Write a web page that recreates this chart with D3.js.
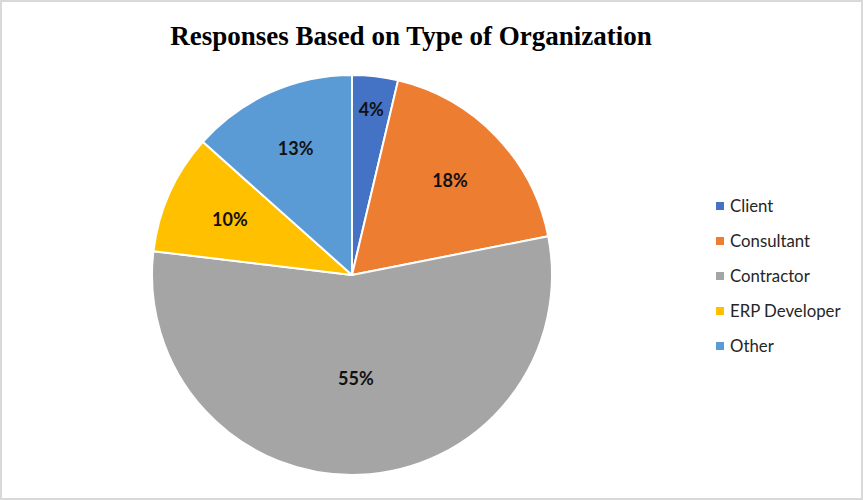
<!DOCTYPE html>
<html><head><meta charset="utf-8">
<script src="https://cdn.jsdelivr.net/npm/d3@7"></script>
<style>html,body{margin:0;padding:0;background:#fff;}</style>
</head><body>
<svg id="chart" width="863" height="500"></svg>
<script>
const categories = ["Client", "Consultant", "Contractor", "ERP Developer", "Other"];
const values = [3.7, 18.2, 55.0, 9.7, 13.4];
const colors = ["#4472C4", "#ED7D31", "#A5A5A5", "#FFC000", "#5B9BD5"];
const title = "Responses Based on Type of Organization";

const svg = d3.select("#chart");
svg.append("rect").attr("x", 1).attr("y", 1).attr("width", 861).attr("height", 498)
  .attr("fill", "#fff").attr("stroke", "#d9d9d9").attr("stroke-width", 2);

svg.append("text").attr("x", 411).attr("y", 45).attr("text-anchor", "middle")
  .attr("font-family", "'Liberation Serif', 'Times New Roman', serif")
  .attr("font-weight", "bold").attr("font-size", 27).attr("fill", "#000").text(title);

const cx = 352, cy = 275, R = 200;
const data = categories.map((c, i) => ({cat: c, value: values[i], color: colors[i]}));
const pie = d3.pie().value(d => d.value).sort(null);
const arcs = pie(data);
const arc = d3.arc().innerRadius(0).outerRadius(R);
const g = svg.append("g").attr("transform", `translate(${cx},${cy})`);
g.selectAll("path").data(arcs).enter().append("path")
  .attr("d", arc).attr("fill", d => d.data.color)
  .attr("stroke", "#fff").attr("stroke-width", 2).attr("stroke-linejoin", "round");

const total = d3.sum(values);
const labelFrac = [0.83, 0.68, 0.52, 0.67, 0.69];
g.selectAll("text.lbl").data(arcs).enter().append("text")
  .attr("class", "lbl")
  .attr("transform", (d, i) => {
    const a = (d.startAngle + d.endAngle) / 2;
    const r = R * labelFrac[i];
    return `translate(${Math.sin(a) * r},${-Math.cos(a) * r})`;
  })
  .attr("text-anchor", "middle").attr("dy", "0.35em")
  .attr("font-family", "Lato, 'Open Sans', sans-serif").attr("font-weight", "bold")
  .attr("font-size", 18).attr("fill", "#111")
  .text(d => Math.round(d.data.value / total * 100) + "%");

const legend = svg.append("g").attr("transform", "translate(716,206)");
const items = legend.selectAll("g").data(data).enter().append("g")
  .attr("transform", (d, i) => `translate(0,${i * 35})`);
items.append("rect").attr("x", 0).attr("y", -4).attr("width", 8).attr("height", 8)
  .attr("fill", d => d.color);
items.append("text").attr("x", 14).attr("y", 0).attr("dy", "0.35em")
  .attr("font-family", "Lato, 'Open Sans', sans-serif").attr("font-size", 16.8)
  .attr("fill", "#262626").text(d => d.cat);
</script>
</body></html>
